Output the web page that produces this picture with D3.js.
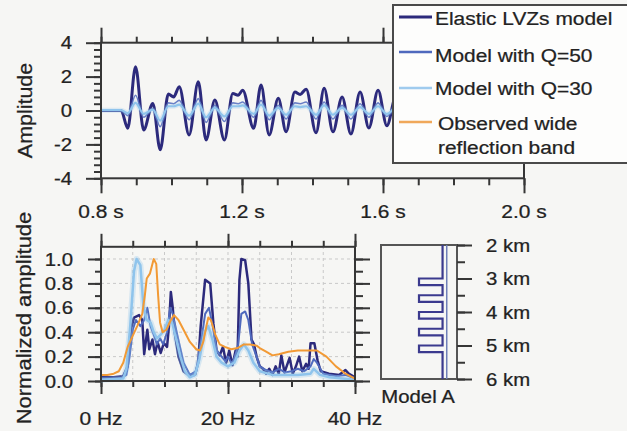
<!DOCTYPE html>
<html>
<head>
<meta charset="utf-8">
<script src="https://cdn.jsdelivr.net/npm/d3@7"></script>
<style>
  html, body { margin: 0; padding: 0; background: #f6f6f4; }
  svg { display: block; font-family: "Liberation Sans", Arial, Helvetica, sans-serif; }
</style>
</head>
<body>
<svg id="chart" width="627" height="431"></svg>
<script>
// ---- synthetic seismograms (time in s, amplitude) ----
const waveTime = [0.80, 0.857, 0.876, 0.898, 0.921, 0.947, 0.968, 0.991, 1.006, 1.022, 1.050, 1.076, 1.098, 1.123, 1.150, 1.174, 1.189, 1.202, 1.233, 1.254, 1.277, 1.303, 1.325, 1.350, 1.365, 1.382, 1.410, 1.433, 1.458, 1.484, 1.509, 1.535, 1.560, 1.586, 1.611, 1.637, 1.662, 1.688, 1.714, 1.740, 1.766, 1.80, 1.85, 2.0];
const elasticWave = [0, 0, -1.05, 2.58, -1.15, 0.42, -2.32, 0.97, 0.8, 1.4, -1.44, 1.69, -1.74, 0.62, -1.74, 1.01, 0.9, 1.2, -1.05, 1.5, -1.44, 0.72, -1.25, 1.09, 0.95, 1.26, -1.32, 1.32, -1.26, 0.8, -1.38, 1.09, -1.03, 1.2, -0.9, 0.85, -0.8, 0.6, -0.5, 0.4, -0.2, 0, 0, 0];
const q50Wave = [0, 0, -0.3, 0.9, -0.4, 0.1, -0.95, 0.45, 0.4, 0.6, -0.55, 0.7, -0.7, 0.3, -0.65, 0.45, 0.4, 0.5, -0.4, 0.6, -0.55, 0.3, -0.5, 0.45, 0.4, 0.5, -0.5, 0.5, -0.5, 0.3, -0.5, 0.4, -0.4, 0.45, -0.35, 0.3, -0.3, 0.2, -0.2, 0.15, -0.1, 0, 0, 0];
const q30Wave = [0.02, 0.02, -0.15, 0.45, -0.2, 0.05, -0.6, 0.25, 0.25, 0.35, -0.3, 0.4, -0.4, 0.15, -0.35, 0.25, 0.25, 0.3, -0.2, 0.35, -0.3, 0.15, -0.25, 0.25, 0.2, 0.25, -0.25, 0.3, -0.25, 0.15, -0.25, 0.2, -0.2, 0.25, -0.2, 0.15, -0.15, 0.1, -0.1, 0.05, 0, 0, 0, 0];

// ---- normalized amplitude spectra (Hz, amplitude) ----
const elasticFreq = [0, 2, 3.5, 4.2, 4.7, 5.2, 6.0, 6.5, 6.8, 7.3, 7.6, 8.1, 8.5, 8.9, 9.4, 9.9, 10.4, 10.7, 11.0, 11.3, 11.6, 12.2, 13, 14, 14.8, 15.3, 15.7, 16.4, 17.2, 17.7, 18.2, 18.7, 19.2, 19.7, 20.2, 20.7, 21.2, 21.5, 21.8, 22.1, 22.7, 23.2, 23.7, 24.1, 24.5, 25.0, 25.5, 26.0, 26.5, 27.0, 27.5, 28.0, 28.4, 28.9, 29.3, 29.7, 30.2, 30.7, 31.2, 31.7, 32.3, 32.7, 33.0, 33.6, 34.1, 34.6, 35.9, 37.5, 38.5, 39.0, 40];
const elasticSpec = [0.03, 0.03, 0.04, 0.12, 0.42, 0.52, 0.54, 0.5, 0.22, 0.42, 0.26, 0.34, 0.22, 0.32, 0.23, 0.31, 0.28, 0.45, 0.73, 0.6, 0.4, 0.2, 0.08, 0.04, 0.05, 0.15, 0.45, 0.83, 0.8, 0.47, 0.25, 0.21, 0.28, 0.15, 0.25, 0.13, 0.25, 0.2, 0.83, 1.0, 0.99, 0.8, 0.34, 0.3, 0.2, 0.12, 0.1, 0.06, 0.1, 0.05, 0.12, 0.06, 0.21, 0.07, 0.13, 0.19, 0.06, 0.12, 0.2, 0.08, 0.14, 0.1, 0.31, 0.31, 0.17, 0.08, 0.06, 0.05, 0.09, 0.06, 0.03];

const q50Freq = [0, 3, 4, 4.5, 5, 5.5, 6.2, 6.8, 7.3, 7.8, 8.3, 8.8, 9.3, 9.8, 10.4, 10.9, 11.3, 12, 13, 14, 15, 15.7, 16.4, 17.0, 17.6, 18.2, 19, 19.6, 20, 20.6, 21, 21.6, 22.1, 22.7, 23.2, 23.8, 24.5, 25, 26, 27, 28, 29, 30, 31, 32, 33, 33.5, 34, 35, 36, 37, 38.5, 40];
const q50Spec = [0.02, 0.02, 0.05, 0.2, 0.42, 0.5, 0.45, 0.5, 0.6, 0.45, 0.38, 0.3, 0.35, 0.3, 0.4, 0.6, 0.55, 0.38, 0.15, 0.05, 0.08, 0.3, 0.55, 0.6, 0.45, 0.25, 0.2, 0.16, 0.2, 0.14, 0.18, 0.3, 0.55, 0.57, 0.5, 0.3, 0.2, 0.12, 0.09, 0.07, 0.1, 0.07, 0.08, 0.1, 0.08, 0.12, 0.18, 0.15, 0.06, 0.05, 0.04, 0.05, 0.02];

const q30Freq = [0, 3.5, 4, 4.6, 5.2, 5.6, 6.2, 6.7, 7.2, 7.8, 8.3, 8.8, 9.4, 10, 10.6, 11.2, 11.8, 12.5, 13.2, 14, 14.8, 15.5, 16.3, 16.9, 17.5, 18.2, 19, 20, 21, 21.8, 22.5, 23.2, 24, 25, 27, 29, 31, 33, 33.5, 34.5, 36, 38, 40];
const q30Spec = [0.01, 0.02, 0.1, 0.45, 0.9, 1.0, 0.95, 0.6, 0.5, 0.48, 0.4, 0.35, 0.38, 0.42, 0.5, 0.48, 0.35, 0.2, 0.08, 0.03, 0.05, 0.18, 0.4, 0.45, 0.35, 0.2, 0.15, 0.12, 0.15, 0.25, 0.3, 0.25, 0.15, 0.08, 0.05, 0.05, 0.05, 0.06, 0.1, 0.05, 0.03, 0.02, 0.01];

const observedFreq = [0, 1, 2, 2.8, 3.5, 4.2, 4.9, 5.7, 6.5, 6.9, 7.2, 7.7, 8.3, 8.7, 9.0, 9.3, 9.7, 10.3, 11.0, 11.5, 12.2, 13.0, 14.0, 15.0, 15.6, 16.1, 16.6, 16.9, 17.3, 18.0, 18.7, 19.5, 20.5, 21.5, 22.5, 23.5, 24.5, 25.0, 26.0, 27.0, 28.0, 29.5, 31.0, 33.0, 34.0, 35.5, 37.0, 38.5, 40];
const observedSpec = [0.05, 0.05, 0.06, 0.08, 0.15, 0.28, 0.36, 0.45, 0.55, 0.7, 0.84, 0.88, 1.0, 0.96, 0.7, 0.48, 0.4, 0.42, 0.5, 0.54, 0.5, 0.42, 0.32, 0.26, 0.25, 0.32, 0.45, 0.52, 0.5, 0.38, 0.3, 0.28, 0.26, 0.27, 0.3, 0.3, 0.29, 0.27, 0.24, 0.21, 0.22, 0.24, 0.25, 0.25, 0.25, 0.2, 0.12, 0.06, 0.02];

// ---- Model A velocity profile (depth km, velocity km/s) ----
const modelDepth = [2, 3.0, 3.0, 3.2, 3.2, 3.5, 3.5, 3.7, 3.7, 4.0, 4.0, 4.2, 4.2, 4.5, 4.5, 4.7, 4.7, 5.0, 5.0, 5.2, 5.2, 6];
const modelVel = [3.62, 3.62, 3.0, 3.0, 3.62, 3.62, 3.0, 3.0, 3.62, 3.62, 3.0, 3.0, 3.62, 3.62, 3.0, 3.0, 3.62, 3.62, 3.0, 3.0, 3.62, 3.62];
const referenceDepth = [2, 6];
const referenceVel = [3.73, 3.73];

// ---- ticks and labels ----
const timeTicks = [0.8, 1.2, 1.6, 2.0];
const ampTicks = [-4, -2, 0, 2, 4];
const freqTicks = [0, 20, 40];
const specTicks = [0, 0.2, 0.4, 0.6, 0.8, 1.0];
const depthTicks = [2, 3, 4, 5, 6];
const legendLabels = [["Elastic LVZs model"], ["Model with Q=50"], ["Model with Q=30"], ["Observed wide", "reflection band"]];

const C = {
  elastic: "#2c2a7c",
  q50: "#4f69bd",
  q30: "#8fc4ec",
  observed: "#f29a35",
  frame: "#363636",
  grid: "#c9c9c9",
  text: "#222222"
};
const SX = 1.1; // horizontal glyph stretch

const svg = d3.select("#chart");

function label(g, x, y, s, size, anchor, rot) {
  return g.append("text")
    .attr("transform", `translate(${x},${y})` + (rot ? ` rotate(${rot})` : "") + ` scale(${SX},1)`)
    .attr("text-anchor", anchor || "start")
    .attr("font-size", size)
    .attr("fill", C.text)
    .attr("stroke", C.text)
    .attr("stroke-width", 0.25)
    .text(s);
}

function styleAxis(g) {
  g.select(".domain").remove();
  g.selectAll(".tick line").attr("stroke", C.frame).attr("stroke-width", 2);
  g.selectAll(".tick text").remove();
}

// =============== upper panel: seismograms ===============
const xT = d3.scaleLinear().domain([0.8, 2.0]).range([101, 524]);
const yA = d3.scaleLinear().domain([-4, 4]).range([178.3, 42.7]);
const wavePanel = svg.append("g");

const minorT = d3.range(8, 21).map(d => d / 10);
const minorA = d3.range(-10, 11).map(d => d * 0.4);

wavePanel.append("g").attr("transform", `translate(0,${yA(4)})`)
  .call(d3.axisTop(xT).tickValues(minorT).tickSize(6)).call(styleAxis);
wavePanel.append("g").attr("transform", `translate(0,${yA(4)})`)
  .call(d3.axisTop(xT).tickValues(timeTicks).tickSize(15)).call(styleAxis);
wavePanel.append("g").attr("transform", `translate(0,${yA(-4)})`)
  .call(d3.axisBottom(xT).tickValues(minorT).tickSize(7)).call(styleAxis);
wavePanel.append("g").attr("transform", `translate(0,${yA(-4)})`)
  .call(d3.axisBottom(xT).tickValues(timeTicks).tickSize(15)).call(styleAxis);
wavePanel.append("g").attr("transform", `translate(${xT(0.8)},0)`)
  .call(d3.axisLeft(yA).tickValues(minorA).tickSize(7)).call(styleAxis);
wavePanel.append("g").attr("transform", `translate(${xT(0.8)},0)`)
  .call(d3.axisLeft(yA).tickValues(ampTicks).tickSize(15)).call(styleAxis);

const waveLine = series => d3.line()
  .x((d, i) => xT(waveTime[i]))
  .y(d => yA(d))
  .curve(d3.curveMonotoneX)(series);

wavePanel.append("path").attr("d", waveLine(elasticWave))
  .attr("fill", "none").attr("stroke", C.elastic).attr("stroke-width", 3).attr("stroke-linejoin", "round");
wavePanel.append("path").attr("d", waveLine(q50Wave))
  .attr("fill", "none").attr("stroke", C.q50).attr("stroke-width", 1.6).attr("stroke-opacity", 0.85);
wavePanel.append("path").attr("d", waveLine(q30Wave))
  .attr("fill", "none").attr("stroke", C.q30).attr("stroke-width", 5).attr("stroke-opacity", 0.25);
wavePanel.append("path").attr("d", waveLine(q30Wave))
  .attr("fill", "none").attr("stroke", C.q30).attr("stroke-width", 2.2);

wavePanel.append("rect")
  .attr("x", xT(0.8)).attr("y", yA(4))
  .attr("width", xT(2.0) - xT(0.8)).attr("height", yA(-4) - yA(4))
  .attr("fill", "none").attr("stroke", C.frame).attr("stroke-width", 2);

ampTicks.forEach(v => label(wavePanel, 72, yA(v) + 6.5, String(v), 18.5, "end"));
timeTicks.forEach(v => label(wavePanel, xT(v), 218, v.toFixed(1) + " s", 19, "middle"));
label(wavePanel, 32, (yA(4) + yA(-4)) / 2, "Amplitude", 19.5, "middle", -90);

// =============== lower-left panel: spectra ===============
const xF = d3.scaleLinear().domain([0, 40]).range([101, 355]);
const yS = d3.scaleLinear().domain([0, 1.1]).range([381, 246.8]);
const spec = svg.append("g");

const minorF = d3.range(0, 41, 5);
const minorS = d3.range(0, 11).map(d => d / 10);

// dashed grid
spec.append("g").selectAll("line").data(minorF.slice(1, -1)).join("line")
  .attr("x1", d => xF(d)).attr("x2", d => xF(d))
  .attr("y1", yS(0)).attr("y2", yS(1.1))
  .attr("stroke", C.grid).attr("stroke-width", 1).attr("stroke-dasharray", "3,3");
spec.append("g").selectAll("line").data(specTicks.slice(1)).join("line")
  .attr("x1", xF(0)).attr("x2", xF(40))
  .attr("y1", d => yS(d)).attr("y2", d => yS(d))
  .attr("stroke", C.grid).attr("stroke-width", 1).attr("stroke-dasharray", "3,3");

spec.append("g").attr("transform", `translate(0,${yS(1.1)})`)
  .call(d3.axisTop(xF).tickValues(minorF).tickSize(6)).call(styleAxis);
spec.append("g").attr("transform", `translate(0,${yS(1.1)})`)
  .call(d3.axisTop(xF).tickValues(freqTicks).tickSize(13)).call(styleAxis);
spec.append("g").attr("transform", `translate(0,${yS(0)})`)
  .call(d3.axisBottom(xF).tickValues(minorF).tickSize(6)).call(styleAxis);
spec.append("g").attr("transform", `translate(0,${yS(0)})`)
  .call(d3.axisBottom(xF).tickValues(freqTicks).tickSize(13)).call(styleAxis);
spec.append("g").attr("transform", `translate(${xF(0)},0)`)
  .call(d3.axisLeft(yS).tickValues(minorS).tickSize(6)).call(styleAxis);
spec.append("g").attr("transform", `translate(${xF(0)},0)`)
  .call(d3.axisLeft(yS).tickValues(specTicks).tickSize(13)).call(styleAxis);
spec.append("g").attr("transform", `translate(${xF(40)},0)`)
  .call(d3.axisRight(yS).tickValues(minorS).tickSize(8)).call(styleAxis);
spec.append("g").attr("transform", `translate(${xF(40)},0)`)
  .call(d3.axisRight(yS).tickValues(specTicks).tickSize(15)).call(styleAxis);

const specLine = (fr, am) => d3.line()
  .x((d, i) => xF(fr[i]))
  .y(d => yS(d))(am);

spec.append("path").attr("d", specLine(elasticFreq, elasticSpec))
  .attr("fill", "none").attr("stroke", C.elastic).attr("stroke-width", 2.5).attr("stroke-linejoin", "round");
spec.append("path").attr("d", specLine(q50Freq, q50Spec))
  .attr("fill", "none").attr("stroke", C.q50).attr("stroke-width", 2).attr("stroke-linejoin", "round");
spec.append("path").attr("d", specLine(q30Freq, q30Spec))
  .attr("fill", "none").attr("stroke", C.q30).attr("stroke-width", 6).attr("stroke-opacity", 0.3).attr("stroke-linejoin", "round");
spec.append("path").attr("d", specLine(q30Freq, q30Spec))
  .attr("fill", "none").attr("stroke", C.q30).attr("stroke-width", 2.5).attr("stroke-linejoin", "round");
spec.append("path").attr("d", specLine(observedFreq, observedSpec))
  .attr("fill", "none").attr("stroke", C.observed).attr("stroke-width", 2).attr("stroke-linejoin", "round");

spec.append("rect")
  .attr("x", xF(0)).attr("y", yS(1.1))
  .attr("width", xF(40) - xF(0)).attr("height", yS(0) - yS(1.1))
  .attr("fill", "none").attr("stroke", C.frame).attr("stroke-width", 2);

specTicks.forEach(v => label(spec, 73, yS(v) + 6.5, v.toFixed(1), 18.5, "end"));
freqTicks.forEach(v => label(spec, xF(v), 425, v + " Hz", 19, "middle"));
label(spec, 31, 318, "Normalized amplitude", 20, "middle", -90);

// =============== lower-right panel: Model A ===============
const xV = d3.scaleLinear().domain([2.0, 4.0]).range([381, 457]);
const yD = d3.scaleLinear().domain([2, 6]).range([245, 379]);
const mod = svg.append("g");

mod.append("rect")
  .attr("x", xV(2.0)).attr("y", yD(2))
  .attr("width", xV(4.0) - xV(2.0)).attr("height", yD(6) - yD(2))
  .attr("fill", "none").attr("stroke", "#555").attr("stroke-width", 2);

mod.append("g").attr("transform", `translate(${xV(4.0)},0)`)
  .call(d3.axisRight(yD).tickValues(d3.range(2, 6.01, 0.5)).tickSize(8)).call(styleAxis);
mod.append("g").attr("transform", `translate(${xV(4.0)},0)`)
  .call(d3.axisRight(yD).tickValues(depthTicks).tickSize(15)).call(styleAxis);

const profLine = (dep, vel) => d3.line()
  .x((d, i) => xV(vel[i]))
  .y(d => yD(d))(dep);
mod.append("path").attr("d", profLine(referenceDepth, referenceVel))
  .attr("fill", "none").attr("stroke", "#6f7fb8").attr("stroke-width", 1.5);
mod.append("path").attr("d", profLine(modelDepth, modelVel))
  .attr("fill", "none").attr("stroke", "#3b3a8e").attr("stroke-width", 2.2);

depthTicks.forEach(v => label(mod, 486, yD(v) + 6.5, v + " km", 18.5, "start"));
label(mod, 418, 403, "Model A", 18.5, "middle");

// =============== legend ===============
const leg = svg.append("g");
leg.append("rect").attr("x", 393).attr("y", 5).attr("width", 250).attr("height", 158)
  .attr("fill", "#fdfdfc").attr("stroke", "#4a4a4a").attr("stroke-width", 2);
const legColors = [C.elastic, C.q50, "#9fcbee", "#f0a85a"];
const legY = [17, 52, 88, 122];
const legTextY = [[25], [62], [95], [130, 154]];
const legTextX = [435, 435, 435, 438];
legendLabels.forEach((lines, i) => {
  leg.append("line").attr("x1", 399).attr("x2", 432).attr("y1", legY[i]).attr("y2", legY[i])
    .attr("stroke", legColors[i]).attr("stroke-width", i === 0 ? 3 : 2.5);
  lines.forEach((s, j) => label(leg, legTextX[i], legTextY[i][j], s, 19, "start"));
});
</script>
</body>
</html>
